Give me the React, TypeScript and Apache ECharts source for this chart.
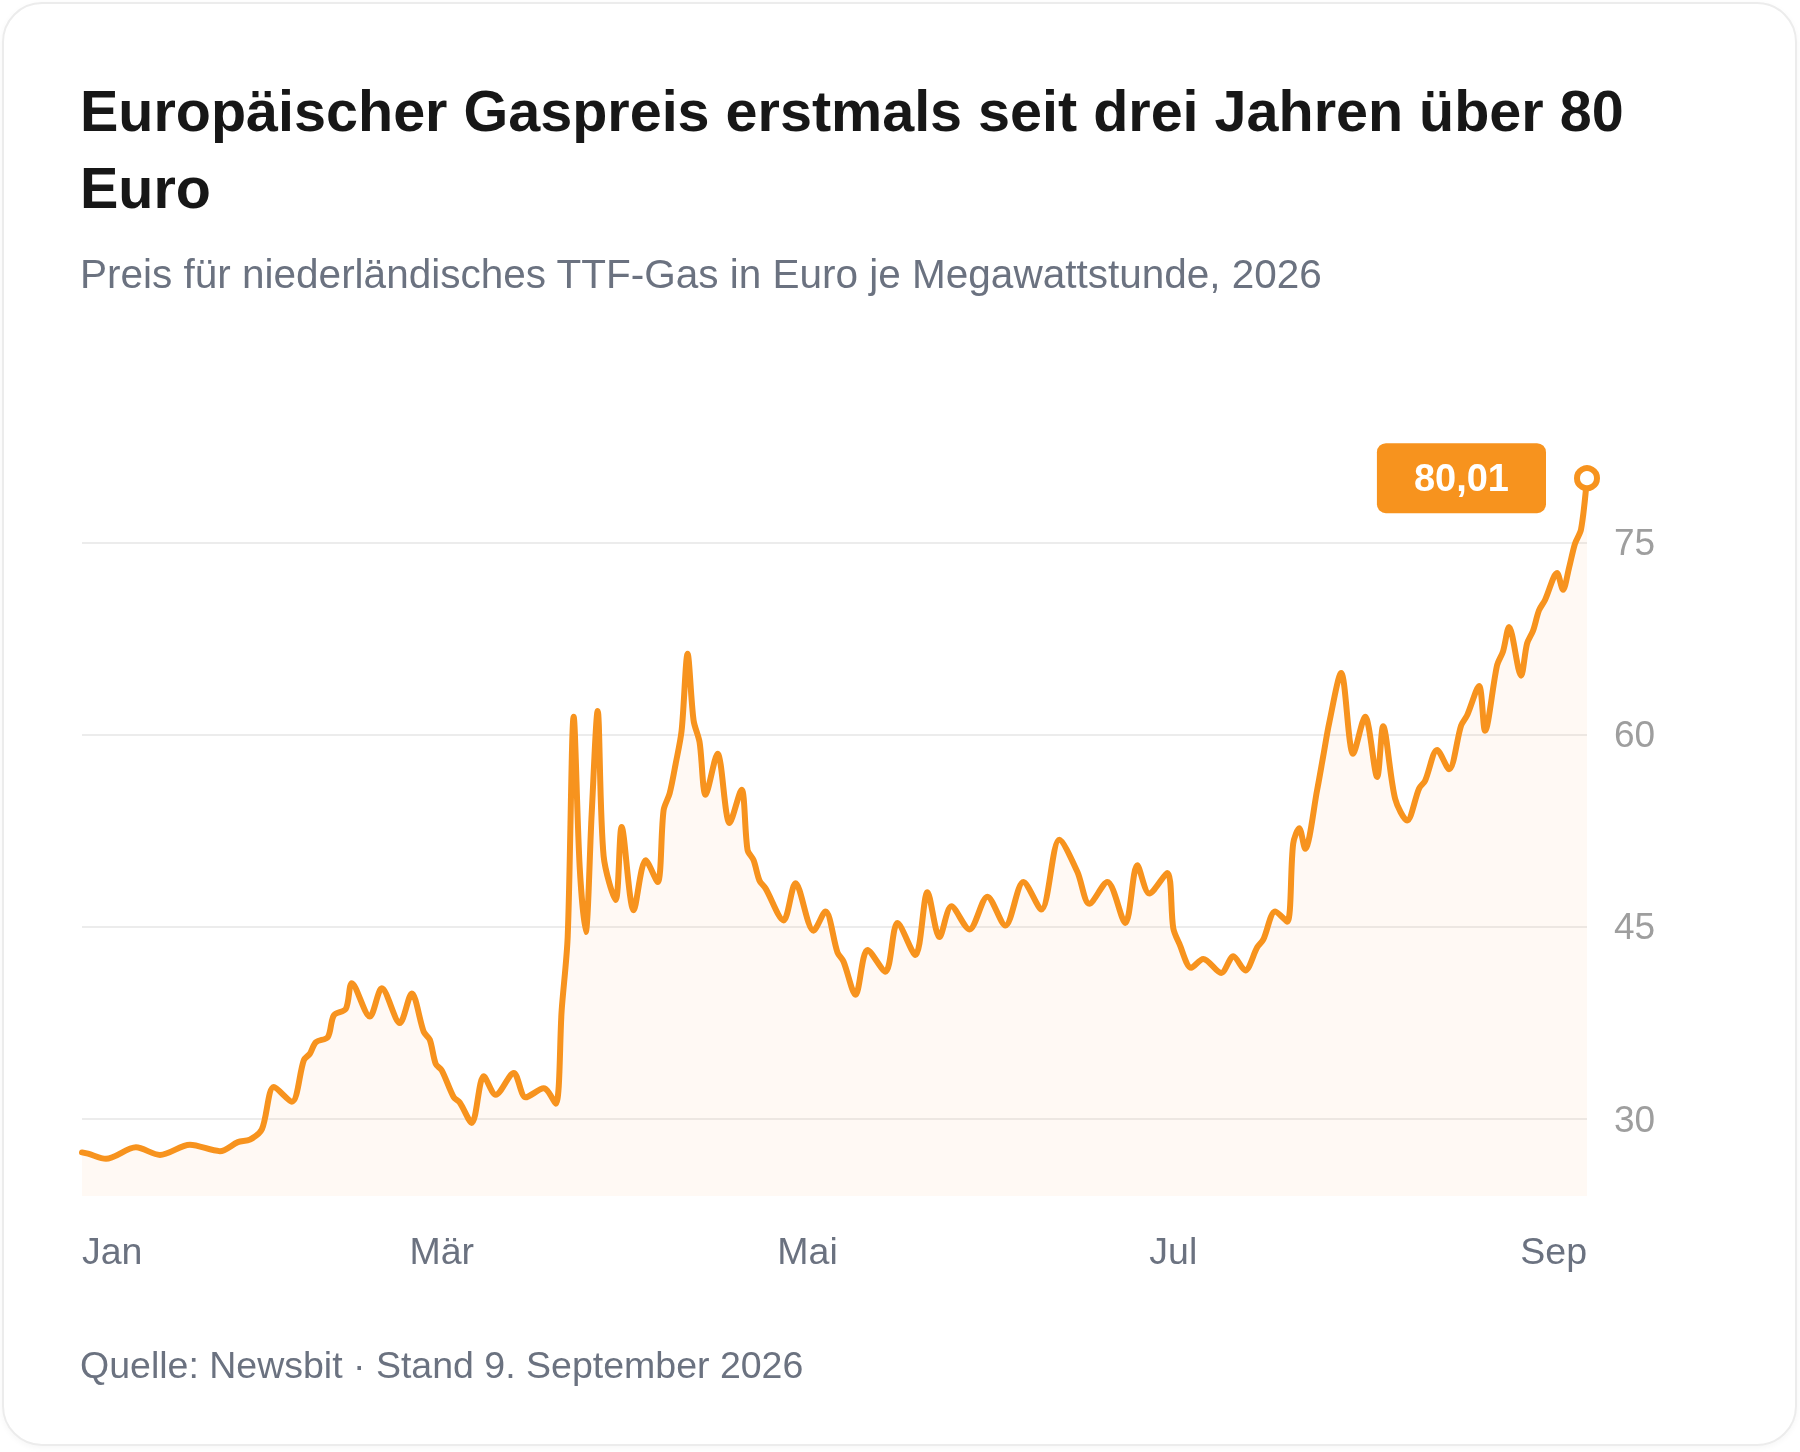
import { useEffect, useRef } from 'react';
import * as echarts from 'echarts';

const FONT = '"Liberation Sans", Arial, Helvetica, sans-serif';
const ORANGE = '#f7931e';

const TITLE = 'Europäischer Gaspreis erstmals seit drei Jahren über 80\nEuro';
const SUBTITLE = 'Preis für niederländisches TTF-Gas in Euro je Megawattstunde, 2026';
const FOOTER = 'Quelle: Newsbit · Stand 9. September 2026';

const MONTHS = ['Jan', 'Feb', 'Mär', 'Apr', 'Mai', 'Jun', 'Jul', 'Aug', 'Sep', 'Okt', 'Nov', 'Dez'];
const X_START = '2026-01-01';
const X_END = '2026-09-09';
const X_LABEL_DATES = ['2026-01-01', '2026-03-02', '2026-05-02', '2026-07-02', '2026-09-09'];
const Y_TICKS = [30, 45, 60, 75];

// TTF-Preis
const dates = [
  '2026-01-01', '2026-01-02', '2026-01-05', '2026-01-10', '2026-01-14', '2026-01-19',
  '2026-01-24', '2026-01-27', '2026-01-29', '2026-01-31', '2026-02-02', '2026-02-05',
  '2026-02-07', '2026-02-08', '2026-02-09', '2026-02-11', '2026-02-12', '2026-02-14',
  '2026-02-15', '2026-02-18', '2026-02-20', '2026-02-23', '2026-02-25', '2026-02-27',
  '2026-02-28', '2026-03-01', '2026-03-02', '2026-03-04', '2026-03-05', '2026-03-07',
  '2026-03-09', '2026-03-11', '2026-03-14', '2026-03-16', '2026-03-19', '2026-03-21',
  '2026-03-22', '2026-03-23', '2026-03-24', '2026-03-25', '2026-03-26', '2026-03-27',
  '2026-03-28', '2026-03-29', '2026-03-31', '2026-04-01', '2026-04-03', '2026-04-05',
  '2026-04-07', '2026-04-08', '2026-04-09', '2026-04-10', '2026-04-11', '2026-04-12',
  '2026-04-13', '2026-04-14', '2026-04-15', '2026-04-17', '2026-04-19', '2026-04-21',
  '2026-04-22', '2026-04-23', '2026-04-24', '2026-04-25', '2026-04-28', '2026-04-30',
  '2026-05-03', '2026-05-05', '2026-05-07', '2026-05-08', '2026-05-10', '2026-05-12',
  '2026-05-15', '2026-05-17', '2026-05-20', '2026-05-22', '2026-05-24', '2026-05-26',
  '2026-05-29', '2026-06-01', '2026-06-04', '2026-06-07', '2026-06-10', '2026-06-13',
  '2026-06-16', '2026-06-18', '2026-06-21', '2026-06-24', '2026-06-26', '2026-06-28',
  '2026-07-01', '2026-07-02', '2026-07-03', '2026-07-05', '2026-07-07', '2026-07-10',
  '2026-07-12', '2026-07-14', '2026-07-16', '2026-07-17', '2026-07-19', '2026-07-21',
  '2026-07-22', '2026-07-23', '2026-07-24', '2026-07-26', '2026-07-27', '2026-07-28',
  '2026-07-30', '2026-08-01', '2026-08-03', '2026-08-05', '2026-08-06', '2026-08-08',
  '2026-08-10', '2026-08-12', '2026-08-13', '2026-08-15', '2026-08-17', '2026-08-19',
  '2026-08-20', '2026-08-22', '2026-08-23', '2026-08-25', '2026-08-26', '2026-08-27',
  '2026-08-29', '2026-08-30', '2026-08-31', '2026-09-01', '2026-09-02', '2026-09-04',
  '2026-09-05', '2026-09-06', '2026-09-07', '2026-09-08', '2026-09-09',
];

const prices = [
  27.4, 27.3, 26.9, 27.8, 27.2, 28.0,
  27.5, 28.2, 28.4, 29.2, 32.5, 31.35,
  34.6, 35.1, 36.0, 36.4, 38.1, 38.6,
  40.6, 38.0, 40.2, 37.5, 39.8, 36.8,
  36.2, 34.3, 33.8, 31.7, 31.3, 29.7,
  33.35, 31.9, 33.6, 31.7, 32.4, 31.2,
  38.5, 44.2, 61.4, 49.7, 44.6, 53.8,
  61.85, 50.5, 47.1, 52.8, 46.3, 50.2,
  48.5, 54.1, 55.4, 57.7, 60.3, 66.3,
  61.1, 59.4, 55.3, 58.5, 53.1, 55.7,
  51.0, 50.2, 48.6, 48.0, 45.5, 48.4,
  44.7, 46.2, 43.0, 42.3, 39.7, 43.2,
  41.5, 45.3, 42.8, 47.7, 44.2, 46.6,
  44.8, 47.35, 45.1, 48.5, 46.35, 51.8,
  49.3, 46.8, 48.5, 45.3, 49.8, 47.6,
  49.2, 44.9, 43.7, 41.8, 42.5, 41.4,
  42.7, 41.6, 43.4, 44.0, 46.2, 45.4,
  51.5, 52.7, 51.1, 55.7, 58.3, 60.9,
  64.8, 58.5, 61.4, 56.7, 60.65, 55.0,
  53.3, 55.8, 56.4, 58.8, 57.3, 60.7,
  61.5, 63.8, 60.3, 65.4, 66.5, 68.4,
  64.6, 67.1, 68.1, 69.7, 70.5, 72.6,
  71.3, 73.0, 74.9, 76.0, 80.01,
];

const ts = (d: string) => Date.parse(d + 'T00:00:00Z');
const fmtDe = (v: number) => v.toFixed(2).replace('.', ',');

const GasChart: React.FC = () => {
  const divRef = useRef<HTMLDivElement | null>(null);

  useEffect(() => {
    if (!divRef.current) return;
    const chart = echarts.init(divRef.current, null, { renderer: 'svg' });

    const lineData = dates.map((d, i) => [ts(d), prices[i]]);
    const last = lineData[lineData.length - 1];

    chart.setOption({
      animation: false,
      title: [
        {
          text: TITLE,
          left: 80,
          top: 72,
          padding: 0,
          textStyle: { fontFamily: FONT, fontSize: 57.5, fontWeight: 'bold', lineHeight: 77, color: '#171717' },
        },
        {
          text: SUBTITLE,
          left: 80,
          top: 250,
          padding: 0,
          textStyle: { fontFamily: FONT, fontSize: 40.5, fontWeight: 'normal', lineHeight: 48, color: '#6b7280' },
        },
        {
          text: FOOTER,
          left: 80,
          top: 1343,
          padding: 0,
          textStyle: { fontFamily: FONT, fontSize: 37.5, fontWeight: 'normal', lineHeight: 44, color: '#6b7280' },
        },
      ],
      grid: { left: 82, right: 213, top: 427, bottom: 256 },
      xAxis: {
        type: 'value',
        min: ts(X_START),
        max: ts(X_END),
        axisLine: { show: false },
        axisTick: { show: false },
        splitLine: { show: false },
        axisLabel: {
          customValues: X_LABEL_DATES.map(ts),
          formatter: (v: number) => MONTHS[new Date(v).getUTCMonth()],
          alignMinLabel: 'left',
          alignMaxLabel: 'right',
          margin: 36,
          color: '#6b7280',
          fontSize: 37.5,
          lineHeight: 37,
          fontFamily: FONT,
        },
      },
      yAxis: {
        type: 'value',
        position: 'right',
        min: 24,
        max: 84,
        axisLine: { show: false },
        axisTick: { show: false, customValues: Y_TICKS },
        axisLabel: {
          customValues: Y_TICKS,
          margin: 27,
          padding: [6, 0, 0, 0],
          color: '#9e9e9e',
          fontSize: 37,
          fontFamily: FONT,
        },
        splitLine: { show: true, lineStyle: { color: '#ececec', width: 2 } },
      },
      series: [
        {
          type: 'line',
          data: lineData,
          smooth: 0.3,
          showSymbol: false,
          lineStyle: { color: ORANGE, width: 6, cap: 'round', join: 'round' },
          areaStyle: { color: 'rgba(247,147,30,0.075)', origin: 'start' },
          z: 2,
        },
        {
          type: 'scatter',
          data: [last],
          symbol: 'circle',
          symbolSize: 20,
          itemStyle: { color: '#ffffff', borderColor: ORANGE, borderWidth: 6, opacity: 1 },
          label: {
            show: true,
            position: 'left',
            distance: 28,
            formatter: (p: any) => fmtDe(p.value[1]),
            backgroundColor: ORANGE,
            borderRadius: 9,
            padding: [16, 37],
            color: '#ffffff',
            opacity: 1,
            fontFamily: FONT,
            fontSize: 38,
            fontWeight: 'bold',
            lineHeight: 38,
          },
          silent: true,
          z: 3,
        },
      ],
    });

    return () => chart.dispose();
  }, []);

  return (
    <div
      ref={divRef}
      style={{ position: 'fixed', left: 0, top: 0, width: 1800, height: 1452 }}
    />
  );
};

const App: React.FC = () => (
  <div>
    <div
      style={{
        position: 'fixed',
        left: 2,
        top: 2,
        width: 1795,
        height: 1444,
        boxSizing: 'border-box',
        border: '2px solid #ececec',
        borderRadius: 40,
        background: '#ffffff',
        boxShadow: '0 2px 6px rgba(0,0,0,0.04)',
      }}
    />
    <GasChart />
  </div>
);

export default App;
